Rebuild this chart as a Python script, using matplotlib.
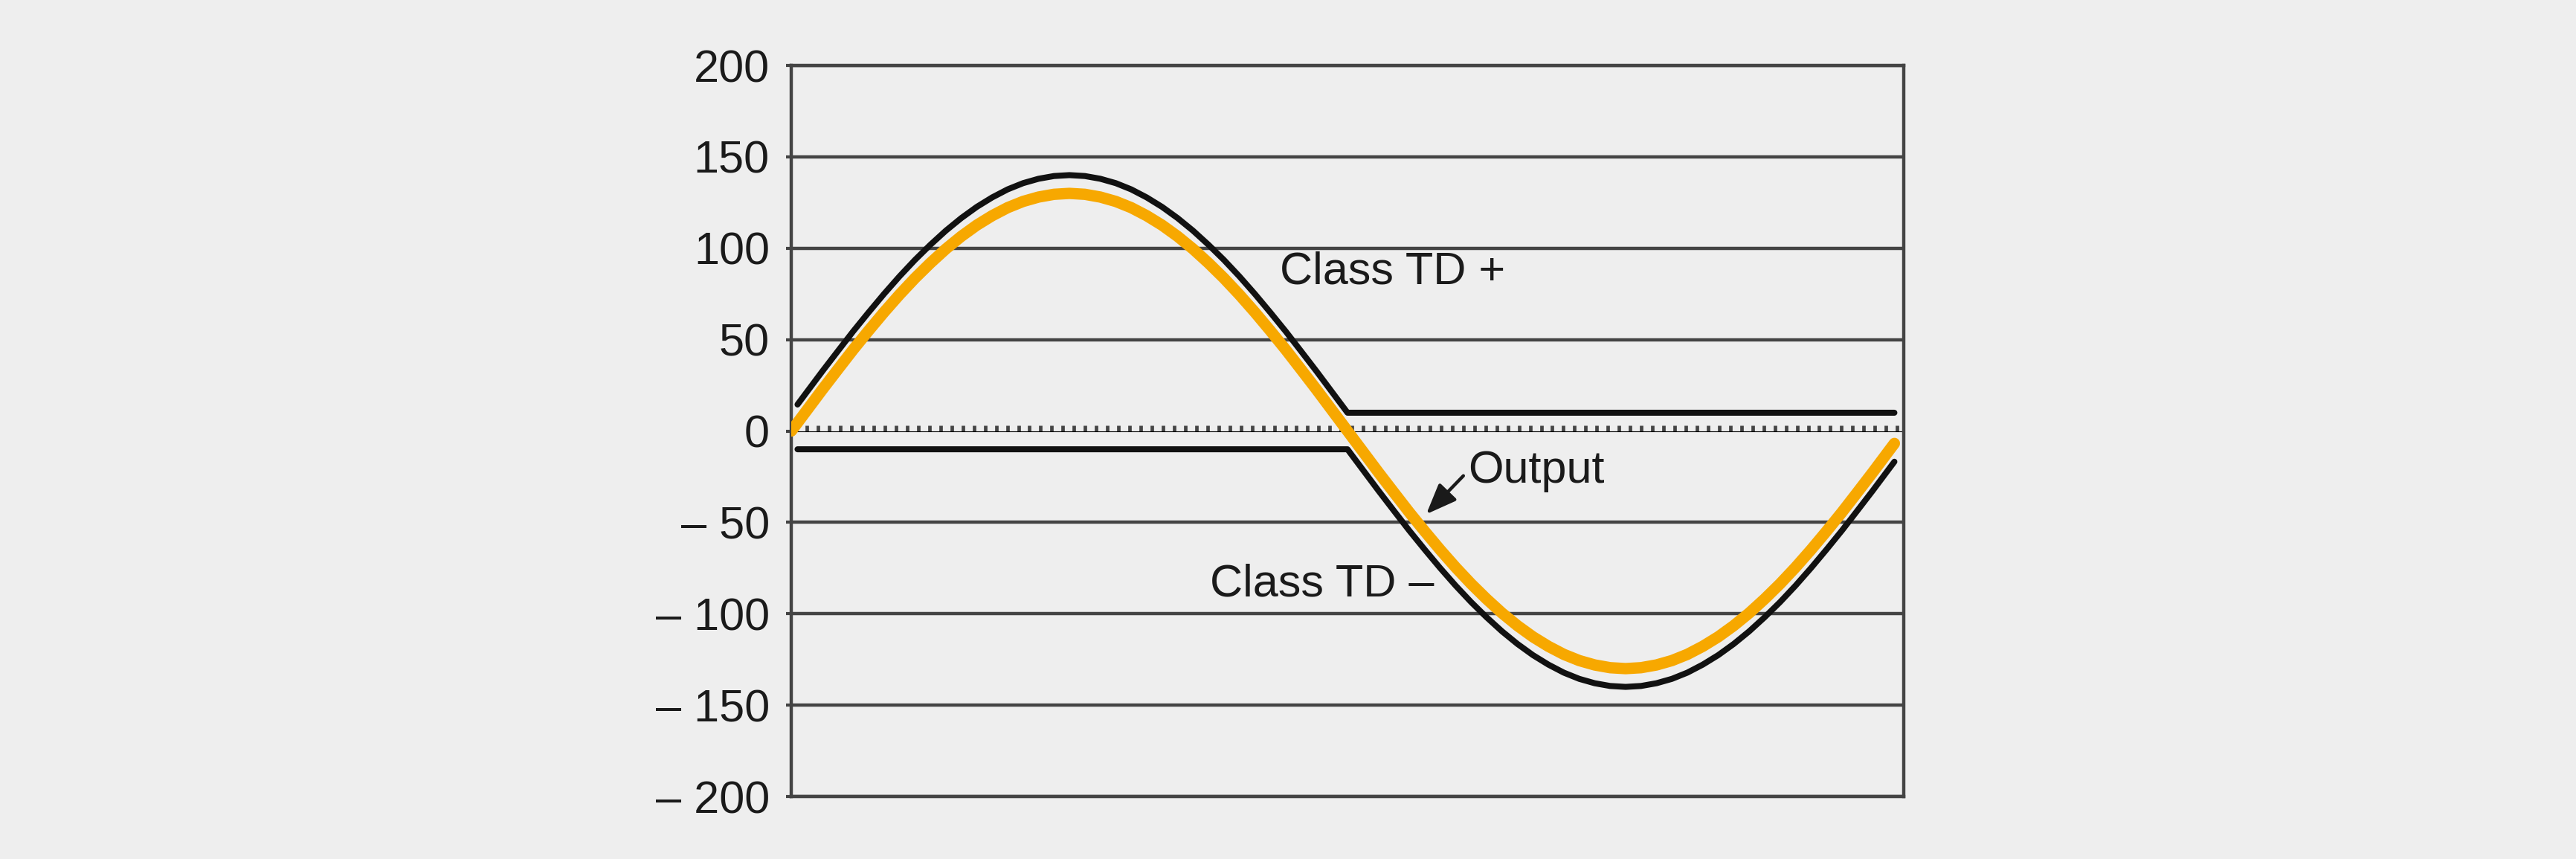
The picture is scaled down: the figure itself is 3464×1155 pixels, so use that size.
import numpy as np
import matplotlib.pyplot as plt
from matplotlib.ticker import NullFormatter

plt.rcParams['font.family'] = ['Liberation Sans', 'DejaVu Sans']

# phase angle in degrees (x axis carries no labels), values read every 5 degrees
angle = list(range(0, 360, 5)) + [357]
output = [0, 11.3, 22.6, 33.6, 44.5, 54.9, 65.0, 74.6, 83.6, 91.9, 99.6, 106.5, 112.6, 117.8,
          122.2, 125.6, 128.0, 129.5, 130.0, 129.5, 128.0, 125.6, 122.2, 117.8, 112.6, 106.5,
          99.6, 91.9, 83.6, 74.6, 65.0, 54.9, 44.5, 33.6, 22.6, 11.3,
          0, -11.3, -22.6, -33.6, -44.5, -54.9, -65.0, -74.6, -83.6, -91.9, -99.6, -106.5,
          -112.6, -117.8, -122.2, -125.6, -128.0, -129.5, -130.0, -129.5, -128.0, -125.6,
          -122.2, -117.8, -112.6, -106.5, -99.6, -91.9, -83.6, -74.6, -65.0, -54.9, -44.5,
          -33.6, -22.6, -11.3, -6.8]

angle_pos = [2] + list(range(5, 185, 5)) + [357]
class_td_pos = [14.5, 21.3, 32.6, 43.6, 54.5, 64.9, 75.0, 84.6, 93.6, 101.9, 109.6, 116.5,
                122.6, 127.8, 132.2, 135.6, 138.0, 139.5, 140.0, 139.5, 138.0, 135.6, 132.2,
                127.8, 122.6, 116.5, 109.6, 101.9, 93.6, 84.6, 75.0, 64.9, 54.5, 43.6, 32.6,
                21.3, 10, 10]

angle_neg = [2] + list(range(180, 360, 5)) + [357]
class_td_neg = [-10, -10, -21.3, -32.6, -43.6, -54.5, -64.9, -75.0, -84.6, -93.6, -101.9,
                -109.6, -116.5, -122.6, -127.8, -132.2, -135.6, -138.0, -139.5, -140.0,
                -139.5, -138.0, -135.6, -132.2, -127.8, -122.6, -116.5, -109.6, -101.9, -93.6,
                -84.6, -75.0, -64.9, -54.5, -43.6, -32.6, -21.3, -16.8]

yticks = [200, 150, 100, 50, 0, -50, -100, -150, -200]
ylabels = ['200', '150', '100', '50', '0', '\u2013 50', '\u2013 100', '\u2013 150', '\u2013 200']

bg = '#eeeeee'
grid_col = '#444444'
orange = '#f7a800'
ink = '#1a1a1a'

fig = plt.figure(figsize=(34.64, 11.55), dpi=100, facecolor=bg)
ax = fig.add_axes([0.3072, 0.0727, 0.4318, 0.8511])
ax.set_facecolor(bg)

ax.set_xlim(0, 360)
ax.set_ylim(-200, 200)
ax.set_yticks(yticks)
ax.set_yticklabels(ylabels)
ax.set_xticks([])
ax.tick_params(axis='y', length=5, width=3, color=grid_col, pad=16,
               labelsize=44, labelcolor=ink)
for s in ax.spines.values():
    s.set_color(grid_col)
    s.set_linewidth(3.2)
for v in yticks:
    if v != 0:
        ax.axhline(v, color=grid_col, lw=3.2, zorder=1)

# zero line with small teeth hanging below
zero = ax.secondary_xaxis(0.5)
zero.spines['bottom'].set_color(grid_col)
zero.spines['bottom'].set_linewidth(2.2)
zero.set_xticks(np.arange(1.5, 360, 3.6))
zero.xaxis.set_major_formatter(NullFormatter())
zero.tick_params(axis='x', direction='out', length=6, width=3.4, color=grid_col)

ax.plot(angle_pos, class_td_pos, color='#111111', lw=5.8, solid_capstyle='round',
        solid_joinstyle='round', zorder=3)
ax.plot(angle_neg, class_td_neg, color='#111111', lw=5.8, solid_capstyle='round',
        solid_joinstyle='round', zorder=3)
ax.plot(angle, output, color=orange, lw=11, solid_capstyle='round',
        solid_joinstyle='round', zorder=4)

ax.text(158, 87, 'Class TD +', fontsize=44, va='center', ha='left', color=ink)
ax.text(208, -84, 'Class TD \u2013', fontsize=44, va='center', ha='right', color=ink)
ax.text(219, -22, 'Output', fontsize=44, va='center', ha='left', color=ink)
ax.annotate('', xy=(205.5, -45.5), xytext=(217.5, -24.5),
            arrowprops=dict(arrowstyle='-|>,head_length=0.5,head_width=0.2', color=ink,
                            lw=3.2, mutation_scale=50, shrinkA=0, shrinkB=0), zorder=5)

fig.savefig('out.png', dpi=100, facecolor=bg)
